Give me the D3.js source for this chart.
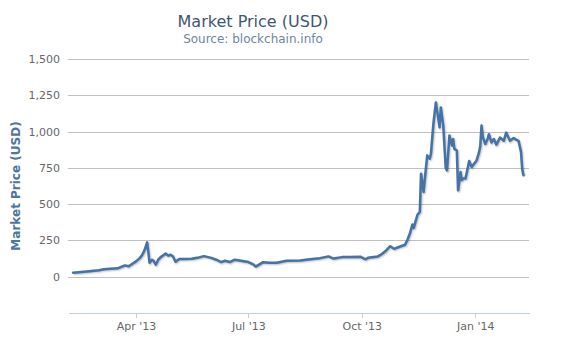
<!DOCTYPE html>
<html>
<head>
<meta charset="utf-8">
<script src="https://cdn.jsdelivr.net/npm/d3@7"></script>
<style>
  html, body { margin: 0; padding: 0; background: #fff; }
  svg { display: block; font-family: "DejaVu Sans", Verdana, sans-serif; }
</style>
</head>
<body>
<svg id="chart" width="562" height="340"></svg>
<script>
const dates = [
  "2013-02-09","2013-02-20","2013-03-02","2013-03-06","2013-03-17","2013-03-20","2013-03-23","2013-03-26","2013-03-30",
  "2013-04-01","2013-04-04","2013-04-06","2013-04-08","2013-04-10","2013-04-11","2013-04-12","2013-04-14","2013-04-15",
  "2013-04-17","2013-04-19","2013-04-21","2013-04-25","2013-04-27","2013-04-29","2013-05-01","2013-05-03","2013-05-06",
  "2013-05-11","2013-05-16","2013-05-22","2013-05-26","2013-06-01","2013-06-05","2013-06-09","2013-06-12","2013-06-16",
  "2013-06-20","2013-06-25","2013-07-01","2013-07-05","2013-07-07","2013-07-09","2013-07-13","2013-07-18","2013-07-24",
  "2013-08-01","2013-08-12","2013-08-20","2013-08-28","2013-09-04","2013-09-08","2013-09-15","2013-09-22","2013-09-30",
  "2013-10-04","2013-10-06","2013-10-14","2013-10-17","2013-10-20","2013-10-24","2013-10-27","2013-10-31","2013-11-05",
  "2013-11-07","2013-11-09","2013-11-11","2013-11-12","2013-11-15","2013-11-17","2013-11-18","2013-11-20","2013-11-23",
  "2013-11-25","2013-11-26","2013-11-28","2013-11-30","2013-12-03","2013-12-04","2013-12-06","2013-12-08","2013-12-09",
  "2013-12-11","2013-12-13","2013-12-14","2013-12-15","2013-12-17","2013-12-18","2013-12-20","2013-12-21","2013-12-22",
  "2013-12-24","2013-12-27","2013-12-29","2014-01-02","2014-01-04","2014-01-05","2014-01-06","2014-01-07","2014-01-09",
  "2014-01-11","2014-01-12","2014-01-14","2014-01-16","2014-01-18","2014-01-21","2014-01-24","2014-01-26","2014-01-29",
  "2014-02-01","2014-02-03","2014-02-05","2014-02-07","2014-02-08","2014-02-09"
];
const prices = [
  28,36,45,52,58,68,78,72,95,
  106,128,150,185,237,168,96,117,112,
  83,117,135,160,145,151,139,103,122,
  122,124,133,142,130,117,100,110,101,
  117,110,101,85,70,80,100,96,96,
  110,112,120,128,140,125,135,135,137,
  120,130,140,155,175,210,192,205,220,
  255,299,360,335,425,447,710,584,836,
  813,847,1053,1201,1030,1166,1041,750,733,
  973,904,949,881,870,596,721,664,676,
  676,797,756,801,858,900,1041,965,914,
  950,982,925,949,910,959,936,993,936,
  955,945,936,860,740,699
];
const yTicks = [0, 250, 500, 750, 1000, 1250, 1500];
const xTickDates = ["2013-04-01","2013-07-01","2013-10-01","2014-01-01"];
const xTickLabels = ["Apr '13","Jul '13","Oct '13","Jan '14"];
const xDomainDates = ["2013-02-04T21:30","2014-02-13T12:00"];
const yDomain = [-250, 1500];

(function () {
const parse = d3.utcParse("%Y-%m-%d");
const parseT = d3.utcParse("%Y-%m-%dT%H:%M");
const data = dates.map((d, i) => ({ date: parse(d), value: prices[i] }));

const svg = d3.select("#chart");
const pl = 68, pr = 529, pt = 59, pb = 313;

const x = d3.scaleUtc().domain(xDomainDates.map(parseT)).range([pl, pr]);
const y = d3.scaleLinear().domain(yDomain).range([pb, pt]);

// Title
svg.append("text").attr("x", 253).attr("y", 27).attr("text-anchor", "middle")
  .attr("font-size", 16).attr("fill", "#3E576F").text("Market Price (USD)");
svg.append("text").attr("x", 253).attr("y", 43).attr("text-anchor", "middle")
  .attr("font-size", 12).attr("fill", "#6D869F").text("Source: blockchain.info");

// Gridlines + y labels
const yAxis = d3.axisLeft(y).tickValues(yTicks).tickSize(-(pr - pl))
  .tickPadding(8).tickFormat(d3.format(","));
const gy = svg.append("g").attr("transform", `translate(${pl},0)`).call(yAxis);
gy.select(".domain").remove();
gy.selectAll(".tick line").attr("stroke", "#C0C0C0").attr("stroke-width", 1)
  .attr("shape-rendering", "crispEdges");
gy.selectAll(".tick text").attr("fill", "#666666").attr("font-size", 11)
  .attr("font-family", "DejaVu Sans, Verdana, sans-serif");

// X axis
const xAxis = d3.axisBottom(x).tickValues(xTickDates.map(parse))
  .tickFormat((d, i) => xTickLabels[i]).tickSize(5).tickSizeOuter(0).tickPadding(4);
const gx = svg.append("g").attr("transform", `translate(0,${pb})`).call(xAxis);
gx.select(".domain").attr("stroke", "#C0D0E0").attr("shape-rendering", "crispEdges");
gx.selectAll(".tick line").attr("stroke", "#C0D0E0").attr("shape-rendering", "crispEdges");
gx.selectAll(".tick text").attr("fill", "#666666").attr("font-size", 11)
  .attr("font-family", "DejaVu Sans, Verdana, sans-serif");

// Y axis title
svg.append("text").attr("transform", `translate(20,${(pt + pb) / 2}) rotate(-90)`)
  .attr("text-anchor", "middle").attr("font-size", 12).attr("font-weight", "bold")
  .attr("fill", "#4D759E").text("Market Price (USD)");

// Line with soft shadow
const line = d3.line().x(d => x(d.date)).y(d => y(d.value));
[[5, 0.05], [3, 0.1], [1, 0.15]].forEach(([w, o]) => {
  svg.append("path").datum(data).attr("d", line).attr("fill", "none")
    .attr("stroke", "#000").attr("stroke-opacity", o).attr("stroke-width", w)
    .attr("stroke-linejoin", "round").attr("transform", "translate(1,1)");
});
svg.append("path").datum(data).attr("d", line).attr("fill", "none")
  .attr("stroke", "#4572A7").attr("stroke-width", 2.5)
  .attr("stroke-linejoin", "round").attr("stroke-linecap", "round");
})();
</script>
</body>
</html>
